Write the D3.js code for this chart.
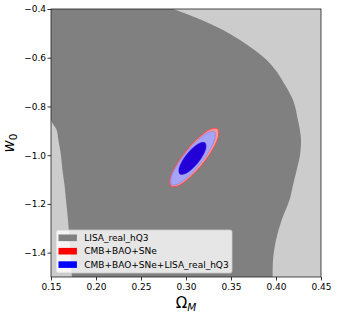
<!DOCTYPE html>
<head>
  <meta charset="utf-8">
  <script src="https://d3js.org/d3.v7.min.js"></script>
  <style>
    body { margin:0; background:white; font-family: "DejaVu Sans", sans-serif; }
    .tick text { font-size: 9px; font-family: "DejaVu Sans", sans-serif; fill:#000; }
    .tick line { stroke:#000; stroke-width:0.8; }
  </style>
</head>
<body>
  <script>
    // LISA_real_hQ3 inner (1 sigma) region, read row by row: w0, left and right Omega_M edge
    var lisaW     = [-0.4, -0.445, -0.486, -0.527, -0.568, -0.609, -0.650, -0.691, -0.774, -0.856, -0.897, -0.938, -0.999, -1.061, -1.122, -1.184, -1.266, -1.348, -1.430, -1.5];
    var lisaLeft  = [0.15, 0.15, 0.15, 0.15, 0.15, 0.15, 0.15, 0.15, 0.15, 0.15, 0.1563, 0.1582, 0.1610, 0.1627, 0.1650, 0.1667, 0.1689, 0.1705, 0.1720, 0.1733];
    var lisaRight = [0.2859, 0.3174, 0.3411, 0.3600, 0.3761, 0.3897, 0.3994, 0.4067, 0.4189, 0.4244, 0.4265, 0.4278, 0.4267, 0.4230, 0.4189, 0.4150, 0.4063, 0.4000, 0.3967, 0.3963];

    // CMB+BAO+SNe 2 sigma contour  [Omega_M, w0]
    var cmb2 = [[0.3351,-0.8915],[0.3361,-0.9209],[0.3300,-0.9740],[0.3183,-1.0366],[0.3041,-1.0920],[0.2914,-1.1253],
                [0.2834,-1.1275],[0.2823,-1.0982],[0.2884,-1.0451],[0.3002,-0.9824],[0.3143,-0.9270],[0.3271,-0.8938]];
    // CMB+BAO+SNe+LISA_real_hQ3 2 sigma and 1 sigma contours
    var all2 = [[0.3315,-0.9043],[0.3322,-0.9305],[0.3264,-0.9787],[0.3155,-1.0360],[0.3026,-1.0871],[0.2911,-1.1183],
                [0.2840,-1.1212],[0.2833,-1.0951],[0.2892,-1.0469],[0.3000,-0.9896],[0.3129,-0.9385],[0.3245,-0.9073]];
    var all1 = [[0.3212,-0.9494],[0.3223,-0.9670],[0.3194,-0.9969],[0.3133,-1.0313],[0.3055,-1.0607],[0.2981,-1.0775],
                [0.2932,-1.0770],[0.2921,-1.0594],[0.2950,-1.0295],[0.3012,-0.9951],[0.3090,-0.9657],[0.3163,-0.9489]];

    var xTicks = [0.15, 0.20, 0.25, 0.30, 0.35, 0.40, 0.45];
    var yTicks = [-1.4, -1.2, -1.0, -0.8, -0.6, -0.4];
    var legendNames = ["LISA_real_hQ3", "CMB+BAO+SNe", "CMB+BAO+SNe+LISA_real_hQ3"];
    var legendColors = ["#808080", "#ff0000", "#0000ff"];

    var svg = d3.select("body").append("svg")
      .attr("width", 337)
      .attr("height", 319)

    var x = d3.scaleLinear().domain([0.15, 0.45]).range([51, 321])
    var y = d3.scaleLinear().domain([-1.5, -0.4]).range([277, 9])

    svg.append("clipPath").attr("id", "plotclip")
      .append("rect")
      .attr("x", x(0.15)).attr("y", y(-0.4))
      .attr("width", x(0.45) - x(0.15))
      .attr("height", y(-1.5) - y(-0.4))

    var plot = svg.append("g").attr("clip-path", "url(#plotclip)")

    // outer (2 sigma) LISA region covers the whole panel
    plot.append("rect")
      .attr("x", x(0.15)).attr("y", y(-0.4))
      .attr("width", x(0.45) - x(0.15))
      .attr("height", y(-1.5) - y(-0.4))
      .style("fill", "#cccccc")

    var rows = lisaW.map(function(w, i) { return {w: w, l: lisaLeft[i], r: lisaRight[i]}; })
    var area = d3.area()
      .curve(d3.curveCatmullRom)
      .y(function(d) { return y(d.w); })
      .x0(function(d) { return x(d.l); })
      .x1(function(d) { return x(d.r); })

    plot.append("path")
      .attr("d", area(rows))
      .style("fill", "#808080")

    var contourLine = d3.line()
      .curve(d3.curveCatmullRomClosed)
      .x(function(d) { return x(d[0]); })
      .y(function(d) { return y(d[1]); })

    plot.append("path").attr("d", contourLine(cmb2))
      .style("fill", "#f29a9a").style("stroke", "#ff4a4a").style("stroke-width", 1)
    plot.append("path").attr("d", contourLine(all2))
      .style("fill", "#a6a4f4").style("stroke", "#8c84f8").style("stroke-width", 0.8)
    plot.append("path").attr("d", contourLine(all1))
      .style("fill", "#2300d8").style("stroke", "#3a20e0").style("stroke-width", 0.6)

    // axes
    svg.append("g")
      .attr("transform", "translate(0," + y(-1.5) + ")")
      .call(d3.axisBottom(x).tickValues(xTicks).tickFormat(d3.format(".2f")).tickSize(3.5).tickPadding(3.5))
      .call(function(g) { g.select(".domain").remove(); })

    svg.append("g")
      .attr("transform", "translate(" + x(0.15) + ",0)")
      .call(d3.axisLeft(y).tickValues(yTicks).tickFormat(d3.format(".1f")).tickSize(3.5).tickPadding(1.5))
      .call(function(g) { g.select(".domain").remove(); })

    svg.append("rect")
      .attr("x", x(0.15)).attr("y", y(-0.4))
      .attr("width", x(0.45) - x(0.15))
      .attr("height", y(-1.5) - y(-0.4))
      .style("fill", "none").style("stroke", "#222").style("stroke-width", 0.8)

    // legend
    var legend = svg.append("g").attr("transform", "translate(56,230)")
    legend.append("rect")
      .attr("width", 176).attr("height", 43).attr("rx", 2)
      .style("fill", "white").style("fill-opacity", 0.8)
      .style("stroke", "#cccccc").style("stroke-width", 0.8)

    var item = legend.selectAll(".item")
      .data(legendNames)
      .enter().append("g")
      .attr("class", "item")
      .attr("transform", function(d, i) { return "translate(0," + (4.5 + i * 13.4) + ")"; })

    item.append("rect")
      .attr("x", 2.5).attr("width", 18.4).attr("height", 6.6)
      .style("fill", function(d, i) { return legendColors[i]; })

    item.append("text")
      .attr("x", 28.3).attr("y", 3.3).attr("dy", "0.35em")
      .style("font-size", "9px")
      .text(function(d) { return d; })

    // axis labels
    var xl = svg.append("text")
      .attr("x", 186).attr("y", 308)
      .attr("text-anchor", "middle")
      .style("font-size", "15px")
    xl.append("tspan").text("Ω")
    xl.append("tspan").attr("dy", 3).style("font-size", "10.5px").style("font-style", "italic").text("M")

    var yl = svg.append("text")
      .attr("transform", "translate(14,143) rotate(-90)")
      .attr("text-anchor", "middle")
      .style("font-size", "15px")
    yl.append("tspan").style("font-style", "italic").text("w")
    yl.append("tspan").attr("dy", 3).style("font-size", "10.5px").text("0")
  </script>
</body>
